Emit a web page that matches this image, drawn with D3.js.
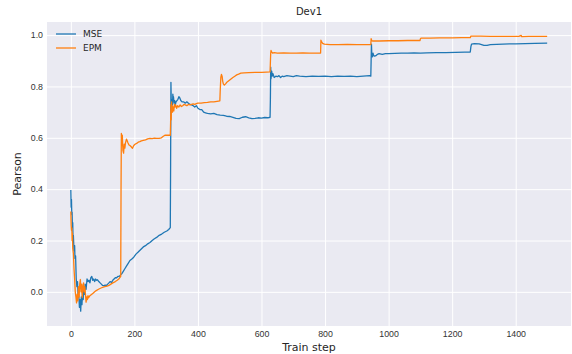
<!DOCTYPE html>
<html>
<head>
<meta charset="utf-8">
<script src="https://cdn.jsdelivr.net/npm/d3@7"></script>
<style>
  body { margin: 0; background: #fff; }
  svg { display: block; font-family: "DejaVu Sans", sans-serif; }
  .grid line { stroke: #fff; stroke-width: 1; }
  .grid path { display: none; }
  .tick text { fill: #333; font-size: 8.8px; }
</style>
</head>
<body>
<script>
// tick values
var xTicks = [0, 200, 400, 600, 800, 1000, 1200, 1400]
var yTicks = [0.0, 0.2, 0.4, 0.6, 0.8, 1.0]

// MSE series [step, pearson]
var mseData = [[0,0.397],[1,0.33],[2,0.36],[3,0.30],[4,0.31],[5,0.25],[6,0.27],[7,0.20],[8,0.22],[10,0.16],[12,0.18],[13,0.13],[15,0.14],[17,0.05],[19,0.02],[21,0.04],[23,-0.02],[25,-0.01],[27,-0.06],[29,-0.03],[31,-0.075],[33,-0.02],[35,-0.05],[37,0.00],[39,-0.03],[41,0.02],[43,-0.01],[45,0.03],[48,0.01],[51,0.05],[54,0.04],[57,0.045],[60,0.035],[63,0.055],[66,0.06],[69,0.045],[72,0.05],[75,0.04],[78,0.05],[81,0.045],[84,0.047],[88,0.04],[92,0.035],[96,0.03],[100,0.025],[104,0.024],[108,0.026],[112,0.025],[116,0.03],[120,0.035],[124,0.04],[128,0.036],[132,0.045],[136,0.05],[140,0.055],[144,0.055],[148,0.06],[152,0.06],[156,0.065],[160,0.07],[165,0.08],[170,0.09],[175,0.1],[180,0.11],[186,0.122],[192,0.128],[198,0.135],[205,0.147],[212,0.155],[220,0.165],[228,0.175],[235,0.18],[242,0.187],[249,0.192],[256,0.2],[263,0.207],[270,0.212],[278,0.22],[286,0.225],[294,0.232],[302,0.237],[308,0.243],[313,0.25],[314,0.5],[315,0.816],[316,0.74],[317,0.7],[318,0.715],[319,0.75],[320,0.73],[321,0.77],[322,0.75],[323,0.76],[325,0.735],[327,0.745],[329,0.73],[331,0.74],[334,0.745],[337,0.75],[340,0.76],[343,0.755],[346,0.745],[350,0.74],[355,0.74],[360,0.735],[365,0.74],[370,0.735],[375,0.73],[380,0.728],[385,0.725],[390,0.72],[395,0.725],[400,0.715],[406,0.71],[412,0.71],[418,0.70],[424,0.697],[430,0.695],[440,0.693],[450,0.695],[460,0.69],[470,0.688],[480,0.687],[490,0.684],[500,0.683],[510,0.68],[520,0.676],[530,0.675],[540,0.68],[550,0.682],[560,0.678],[570,0.675],[580,0.676],[590,0.678],[600,0.677],[610,0.679],[620,0.678],[627,0.68],[628,0.75],[629,0.875],[630,0.83],[632,0.86],[634,0.84],[636,0.85],[640,0.835],[645,0.84],[650,0.838],[655,0.842],[660,0.835],[665,0.84],[670,0.838],[680,0.842],[690,0.84],[700,0.838],[710,0.842],[720,0.84],[740,0.838],[760,0.84],[780,0.839],[800,0.84],[820,0.838],[840,0.84],[860,0.839],[880,0.84],[900,0.838],[920,0.84],[940,0.842],[944,0.84],[945,0.9],[946,0.965],[947,0.93],[949,0.915],[951,0.93],[953,0.92],[956,0.918],[960,0.92],[965,0.925],[970,0.928],[980,0.925],[990,0.928],[1000,0.928],[1020,0.929],[1040,0.93],[1060,0.93],[1080,0.931],[1100,0.93],[1120,0.931],[1150,0.932],[1180,0.932],[1210,0.933],[1240,0.934],[1257,0.934],[1259,0.955],[1261,0.965],[1270,0.967],[1285,0.966],[1300,0.96],[1310,0.96],[1320,0.963],[1340,0.964],[1360,0.965],[1380,0.966],[1400,0.966],[1430,0.967],[1460,0.968],[1499,0.969]]

// EPM series [step, pearson]
var epmData = [[0,0.313],[1,0.26],[2,0.24],[3,0.25],[4,0.2],[5,0.23],[6,0.17],[8,0.15],[10,0.09],[12,0.05],[14,0.0],[16,-0.02],[18,-0.043],[20,-0.01],[22,-0.035],[24,0.02],[26,-0.02],[28,0.03],[30,0.048],[32,0.0],[34,0.03],[36,-0.022],[38,0.02],[40,0.035],[42,0.0],[44,0.02],[46,-0.01],[48,-0.04],[50,-0.02],[52,-0.03],[54,-0.015],[56,-0.023],[60,-0.015],[65,-0.01],[70,-0.005],[75,0.0],[80,0.005],[87,0.01],[95,0.015],[102,0.018],[107,0.02],[114,0.022],[120,0.025],[126,0.03],[132,0.035],[140,0.04],[146,0.045],[151,0.05],[155,0.057],[157,0.06],[158,0.4],[159,0.617],[160,0.6],[161,0.57],[162,0.61],[164,0.55],[166,0.54],[168,0.575],[170,0.56],[172,0.58],[175,0.595],[177,0.589],[180,0.58],[183,0.572],[186,0.57],[190,0.565],[194,0.559],[198,0.57],[202,0.575],[207,0.578],[212,0.583],[217,0.585],[222,0.588],[228,0.59],[235,0.592],[242,0.596],[249,0.598],[256,0.597],[263,0.599],[270,0.598],[278,0.598],[285,0.6],[290,0.605],[296,0.61],[302,0.61],[308,0.61],[313,0.61],[314,0.66],[315,0.73],[316,0.67],[317,0.74],[318,0.71],[319,0.725],[320,0.7],[322,0.72],[324,0.705],[326,0.73],[328,0.72],[330,0.728],[333,0.715],[336,0.725],[340,0.72],[344,0.728],[348,0.722],[352,0.725],[356,0.73],[360,0.728],[365,0.725],[370,0.73],[375,0.728],[380,0.73],[385,0.732],[390,0.73],[395,0.733],[400,0.735],[410,0.735],[420,0.737],[430,0.738],[440,0.74],[450,0.74],[460,0.742],[469,0.744],[470,0.78],[472,0.835],[474,0.847],[476,0.84],[478,0.82],[480,0.81],[483,0.805],[487,0.81],[490,0.815],[495,0.82],[500,0.825],[505,0.83],[510,0.835],[516,0.84],[522,0.845],[528,0.848],[535,0.852],[545,0.853],[560,0.854],[580,0.855],[600,0.855],[615,0.856],[627,0.857],[629,0.93],[630,0.94],[632,0.935],[635,0.93],[640,0.932],[650,0.93],[670,0.931],[690,0.93],[710,0.93],[730,0.931],[750,0.93],[770,0.93],[786,0.93],[787,0.98],[789,0.975],[792,0.968],[798,0.965],[806,0.964],[816,0.963],[840,0.963],[870,0.964],[900,0.963],[930,0.963],[944,0.963],[945,0.986],[947,0.978],[950,0.977],[970,0.977],[1000,0.978],[1030,0.978],[1060,0.979],[1099,0.979],[1100,0.985],[1102,0.988],[1130,0.988],[1160,0.989],[1200,0.989],[1230,0.99],[1257,0.99],[1259,0.996],[1290,0.996],[1320,0.995],[1350,0.995],[1380,0.995],[1410,0.995],[1417,0.999],[1419,0.994],[1440,0.995],[1470,0.995],[1499,0.995]]

var seriesNames = ['MSE', 'EPM']
var seriesColors = ['#1f77b4', '#ff7f0e']

var W = 572, H = 354
var margin = {top: 22, right: 1, bottom: 28, left: 47}
var width = W - margin.left - margin.right
var height = H - margin.top - margin.bottom

var svg = d3.select('body').append('svg')
    .attr('width', W)
    .attr('height', H)

var g = svg.append('g')
    .attr('transform', 'translate(' + margin.left + ',' + margin.top + ')')

// matplotlib-like 5% margins around the data
var x = d3.scaleLinear().domain([-75, 1574]).range([0, width])
var y = d3.scaleLinear().domain([-0.133, 1.051]).range([height, 0])

g.append('rect')
    .attr('width', width)
    .attr('height', height)
    .attr('fill', '#eaeaf2')

// grid + labels (no tick marks, seaborn darkgrid)
g.append('g')
    .attr('class', 'grid')
    .attr('transform', 'translate(0,' + height + ')')
    .call(d3.axisBottom(x).tickValues(xTicks).tickSize(-height).tickPadding(5).tickFormat(d3.format('d')))

g.append('g')
    .attr('class', 'grid')
    .call(d3.axisLeft(y).tickValues(yTicks).tickSize(-width).tickPadding(4).tickFormat(d3.format('.1f')))

var line = d3.line()
    .x(function(d) { return x(d[0]) })
    .y(function(d) { return y(d[1]) })

var allSeries = [mseData, epmData]
allSeries.forEach(function(dat, i) {
    g.append('path')
        .datum(dat)
        .attr('fill', 'none')
        .attr('stroke', seriesColors[i])
        .attr('stroke-width', 1.3)
        .attr('stroke-linejoin', 'round')
        .attr('d', line)
})

// legend
var legend = g.append('g').attr('transform', 'translate(9,12)')
seriesNames.forEach(function(name, i) {
    var row = legend.append('g').attr('transform', 'translate(0,' + (i * 14) + ')')
    row.append('line')
        .attr('x1', 0).attr('x2', 20)
        .attr('stroke', seriesColors[i])
        .attr('stroke-width', 1.3)
    row.append('text')
        .attr('x', 27).attr('y', 3.2)
        .attr('font-size', 9)
        .attr('fill', '#262626')
        .text(name)
})

// title and axis labels
svg.append('text')
    .attr('x', margin.left + width / 2)
    .attr('y', 15)
    .attr('text-anchor', 'middle')
    .attr('font-size', 10)
    .attr('fill', '#262626')
    .text('Dev1')

svg.append('text')
    .attr('x', margin.left + width / 2)
    .attr('y', 351)
    .attr('text-anchor', 'middle')
    .attr('font-size', 11)
    .attr('fill', '#262626')
    .text('Train step')

svg.append('text')
    .attr('transform', 'translate(21,' + (margin.top + height / 2) + ') rotate(-90)')
    .attr('text-anchor', 'middle')
    .attr('font-size', 11)
    .attr('fill', '#262626')
    .text('Pearson')
</script>
</body>
</html>
